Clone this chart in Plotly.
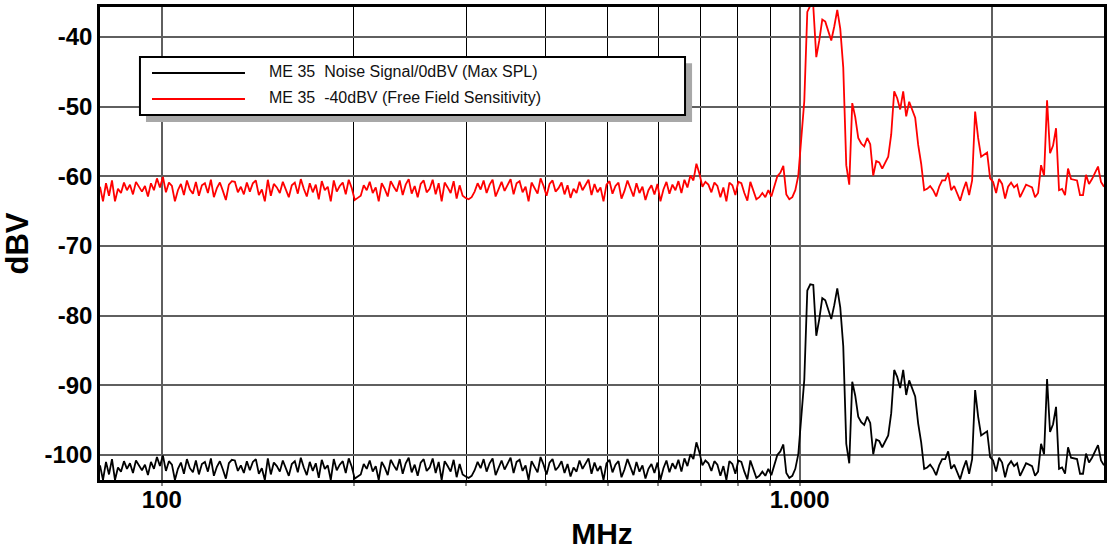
import numpy as np
import plotly.graph_objects as go

# ---------------- data ----------------
series_names = ["ME 35  Noise Signal/0dBV (Max SPL)",
                "ME 35  -40dBV (Free Field Sensitivity)"]
series_colors = ["#000000", "#ff0000"]

# frequency sweep (MHz), log spaced measurement points
sweep_start_mhz = 80
sweep_stop_mhz = 3000
sweep_points = 336

noise_signal_dbv = [
    -101.5, -103.6, -101.0, -102.8, -100.6, -103.6, -101.8, -102.4, -100.9, -102.0,
    -101.2, -102.6, -100.8, -101.5, -102.2, -101.4, -102.9, -101.0, -102.0, -100.3,
    -101.6, -100.1, -102.3, -100.9, -101.4, -103.6, -102.0, -101.1, -102.7, -100.6,
    -101.9, -102.5, -100.8, -102.8, -101.3, -101.0, -102.4, -100.5, -103.0, -101.7,
    -100.9, -102.1, -103.4, -101.2, -100.7, -100.8, -102.3, -101.5, -102.6, -100.9,
    -102.2, -101.0, -100.6, -102.7, -101.9, -103.6, -100.5, -102.8, -101.1, -101.6,
    -102.4, -100.8, -101.9, -103.0, -101.3, -100.9, -102.5, -100.4, -101.8, -102.9,
    -101.0, -102.3, -101.2, -103.3, -100.7, -102.0, -101.5, -103.6, -100.6, -102.2,
    -101.4, -100.9, -102.6, -100.5, -101.7, -103.4, -103.1, -102.8, -101.3, -102.0,
    -100.8, -102.4, -101.6, -103.6, -101.0, -101.8, -102.9, -100.7, -101.5, -102.2,
    -100.6, -102.7, -101.2, -100.4, -102.5, -101.4, -103.0, -101.1, -100.6, -102.3,
    -101.8, -100.5, -102.6, -101.0, -103.6, -100.9, -101.6, -102.4, -100.7, -103.2,
    -101.3, -102.8, -103.1, -103.3, -103.0, -102.2, -101.0, -101.9, -100.6, -102.4,
    -101.2, -100.5, -102.9, -101.7, -100.8, -102.1, -101.3, -100.4, -102.6, -101.0,
    -100.7, -102.3, -101.5, -103.6, -100.9, -101.8, -102.5, -100.3, -101.4, -102.8,
    -101.1, -100.6, -102.2, -101.7, -100.9, -102.6, -101.3, -103.1, -101.8, -102.4,
    -100.8, -102.0, -101.3, -100.5, -102.7, -101.1, -102.3, -101.6, -103.6, -101.2,
    -100.7, -102.5, -101.4, -100.9, -103.2, -102.1, -100.6, -101.8, -102.9, -101.0,
    -102.4, -101.5, -103.4, -102.0, -101.3, -102.6, -101.1, -103.6, -101.9, -100.8,
    -102.5, -101.2, -102.0, -100.7, -102.4, -100.5, -101.6, -99.9, -100.6, -98.2,
    -99.6, -101.5, -100.8, -101.2, -102.3, -100.9, -101.4, -103.0, -101.6, -103.6,
    -100.9, -101.3, -102.7, -100.8, -101.0, -102.4, -103.5,
    -100.8, -102.0, -103.3, -103.0, -102.4, -103.0, -102.0, -102.9, -101.5, -100.0,
    -99.5, -98.5, -102.6, -103.3, -103.0, -102.0, -99.9, -95.0, -89.2, -76.4,
    -75.5, -75.6, -82.9, -80.5, -77.5, -77.8, -79.0, -80.5, -78.5, -76.1,
    -78.8, -84.4, -98.4, -101.2, -89.5, -91.5, -94.5, -95.3, -95.7, -94.5,
    -95.4, -99.9, -97.8, -98.0, -98.9, -98.0, -97.2, -94.0, -87.8, -88.8,
    -90.4, -87.8, -91.4, -89.3, -90.5, -91.6, -95.5, -98.2, -102.0, -101.8,
    -101.4, -102.0, -102.9, -101.5, -100.6, -100.6, -99.5, -102.0, -101.4, -102.5,
    -103.5, -102.0, -100.8, -102.7, -100.6, -90.7, -94.5, -97.2, -96.9, -96.6,
    -100.3, -100.8, -102.4, -100.4, -101.1, -103.2, -101.5, -100.9, -101.6, -101.2,
    -103.0, -102.0, -101.2, -101.4, -101.6, -103.0, -102.4, -98.4, -99.9, -89.1,
    -96.7, -95.6, -93.1, -102.0, -101.8, -102.7, -98.9, -100.4, -100.5, -100.6,
    -102.7, -102.7, -99.8, -101.1, -100.4, -99.5, -98.6, -100.8, -101.5,
]

sensitivity_dbv = [
    -61.5, -63.6, -61.0, -62.8, -60.6, -63.6, -61.8, -62.4, -60.9, -62.0,
    -61.2, -62.6, -60.8, -61.5, -62.2, -61.4, -62.9, -61.0, -62.0, -60.3,
    -61.6, -60.1, -62.3, -60.9, -61.4, -63.6, -62.0, -61.1, -62.7, -60.6,
    -61.9, -62.5, -60.8, -62.8, -61.3, -61.0, -62.4, -60.5, -63.0, -61.7,
    -60.9, -62.1, -63.4, -61.2, -60.7, -60.8, -62.3, -61.5, -62.6, -60.9,
    -62.2, -61.0, -60.6, -62.7, -61.9, -63.6, -60.5, -62.8, -61.1, -61.6,
    -62.4, -60.8, -61.9, -63.0, -61.3, -60.9, -62.5, -60.4, -61.8, -62.9,
    -61.0, -62.3, -61.2, -63.3, -60.7, -62.0, -61.5, -63.6, -60.6, -62.2,
    -61.4, -60.9, -62.6, -60.5, -61.7, -63.4, -63.1, -62.8, -61.3, -62.0,
    -60.8, -62.4, -61.6, -63.6, -61.0, -61.8, -62.9, -60.7, -61.5, -62.2,
    -60.6, -62.7, -61.2, -60.4, -62.5, -61.4, -63.0, -61.1, -60.6, -62.3,
    -61.8, -60.5, -62.6, -61.0, -63.6, -60.9, -61.6, -62.4, -60.7, -63.2,
    -61.3, -62.8, -63.1, -63.3, -63.0, -62.2, -61.0, -61.9, -60.6, -62.4,
    -61.2, -60.5, -62.9, -61.7, -60.8, -62.1, -61.3, -60.4, -62.6, -61.0,
    -60.7, -62.3, -61.5, -63.6, -60.9, -61.8, -62.5, -60.3, -61.4, -62.8,
    -61.1, -60.6, -62.2, -61.7, -60.9, -62.6, -61.3, -63.1, -61.8, -62.4,
    -60.8, -62.0, -61.3, -60.5, -62.7, -61.1, -62.3, -61.6, -63.6, -61.2,
    -60.7, -62.5, -61.4, -60.9, -63.2, -62.1, -60.6, -61.8, -62.9, -61.0,
    -62.4, -61.5, -63.4, -62.0, -61.3, -62.6, -61.1, -63.6, -61.9, -60.8,
    -62.5, -61.2, -62.0, -60.7, -62.4, -60.5, -61.6, -59.9, -60.6, -58.2,
    -59.6, -61.5, -60.8, -61.2, -62.3, -60.9, -61.4, -63.0, -61.6, -63.6,
    -60.9, -61.3, -62.7, -60.8, -61.0, -62.4, -63.5,
    -60.8, -62.0, -63.3, -63.0, -62.4, -63.0, -62.0, -62.9, -61.5, -60.0,
    -59.5, -58.5, -62.6, -63.3, -63.0, -62.0, -59.9, -55.0, -49.2, -36.4,
    -35.5, -35.6, -42.9, -40.5, -37.5, -37.8, -39.0, -40.5, -38.5, -36.1,
    -38.8, -44.4, -58.4, -61.2, -49.5, -51.5, -54.5, -55.3, -55.7, -54.5,
    -55.4, -59.9, -57.8, -58.0, -58.9, -58.0, -57.2, -54.0, -47.8, -48.8,
    -50.4, -47.8, -51.4, -49.3, -50.5, -51.6, -55.5, -58.2, -62.0, -61.8,
    -61.4, -62.0, -62.9, -61.5, -60.6, -60.6, -59.5, -62.0, -61.4, -62.5,
    -63.5, -62.0, -60.8, -62.7, -60.6, -50.7, -54.5, -57.2, -56.9, -56.6,
    -60.3, -60.8, -62.4, -60.4, -61.1, -63.2, -61.5, -60.9, -61.6, -61.2,
    -63.0, -62.0, -61.2, -61.4, -61.6, -63.0, -62.4, -58.4, -59.9, -49.1,
    -56.7, -55.6, -53.1, -62.0, -61.8, -62.7, -58.9, -60.4, -60.5, -60.6,
    -62.7, -62.7, -59.8, -61.1, -60.4, -59.5, -58.6, -60.8, -61.5,
]

y_ticks = [-100, -90, -80, -70, -60, -50, -40]
y_tick_labels = ["-100", "-90", "-80", "-70", "-60", "-50", "-40"]
x_major_ticks = [100, 1000, 2000]
x_major_labels = ["100", "1.000", ""]
x_minor_ticks = [200, 300, 400, 500, 600, 700, 800, 900]
x_range_mhz = [80, 3000]
y_range_dbv = [-103.6, -35.7]

# ---------------- figure ----------------
freq_mhz = np.geomspace(sweep_start_mhz, sweep_stop_mhz, sweep_points)
values = [noise_signal_dbv, sensitivity_dbv]

FONT = "Arial, Liberation Sans, Helvetica, sans-serif"
GRID = "#5f5f5f"

fig = go.Figure()
for name, color, vals in zip(series_names, series_colors, values):
    fig.add_trace(go.Scatter(x=freq_mhz, y=vals, mode="lines", name=name,
                             line=dict(color=color, width=1.8),
                             showlegend=False))

# custom legend box (shadow, frame, line samples, labels)
lx0, lx1, ly0, ly1 = 0.0398, 0.5827, 0.7717, 0.8943
fig.add_shape(type="rect", xref="paper", yref="paper",
              x0=lx0 + 0.006, x1=lx1 + 0.007, y0=ly0 - 0.015, y1=ly1 - 0.013,
              fillcolor="#a8a8a8", line=dict(width=0), layer="above")
fig.add_shape(type="rect", xref="paper", yref="paper",
              x0=lx0, x1=lx1, y0=ly0, y1=ly1,
              fillcolor="white", line=dict(color="black", width=2), layer="above")
row_y = [0.8605, 0.8055]
for name, color, yy in zip(series_names, series_colors, row_y):
    fig.add_shape(type="line", xref="paper", yref="paper",
                  x0=0.0518, x1=0.1444, y0=yy, y1=yy,
                  line=dict(color=color, width=1.8), layer="above")
    fig.add_annotation(xref="paper", yref="paper", x=0.1663, y=yy + 0.003,
                       xanchor="left", yanchor="middle", showarrow=False,
                       text=name.replace("  ", "\u00a0\u00a0"),
                       font=dict(family=FONT, size=16, color="#111"))

fig.update_xaxes(
    type="log", range=[np.log10(x_range_mhz[0]), np.log10(x_range_mhz[1])],
    tickmode="array", tickvals=x_major_ticks, ticktext=x_major_labels,
    tickfont=dict(family=FONT, size=24, color="black", weight="bold"),
    ticks="outside", ticklen=3, tickcolor="#888", tickwidth=1.5,
    ticklabelstandoff=-7,
    showgrid=True, gridcolor=GRID, gridwidth=1.5,
    minor=dict(tickmode="array", tickvals=x_minor_ticks, showgrid=True,
               gridcolor="black", gridwidth=1.4, ticks="outside", ticklen=3,
               tickcolor="#888", tickwidth=1.5),
    showline=True, linecolor="black", linewidth=2.5, mirror=True,
    zeroline=False, automargin=False,
    title=dict(text="MHz", font=dict(family=FONT, size=30, color="black",
                                     weight="bold"), standoff=15),
)
fig.update_yaxes(
    range=y_range_dbv, tickmode="array", tickvals=y_ticks, ticktext=y_tick_labels,
    tickfont=dict(family=FONT, size=24, color="black", weight="bold"),
    ticks="", showgrid=True, gridcolor=GRID, gridwidth=1.5,
    showline=True, linecolor="black", linewidth=2.5, mirror=True,
    zeroline=False, automargin=False,
    title=dict(text="dBV", font=dict(family=FONT, size=31, color="black",
                                     weight="bold"), standoff=8),
)
fig.update_layout(
    width=1110, height=550,
    margin=dict(l=100, r=6, t=7, b=70),
    paper_bgcolor="white", plot_bgcolor="white",
    font=dict(family=FONT),
)

fig.write_html("out.html", config={"displayModeBar": False},
               post_script="document.body.style.margin='0';"
                           "document.body.style.overflow='hidden';")
